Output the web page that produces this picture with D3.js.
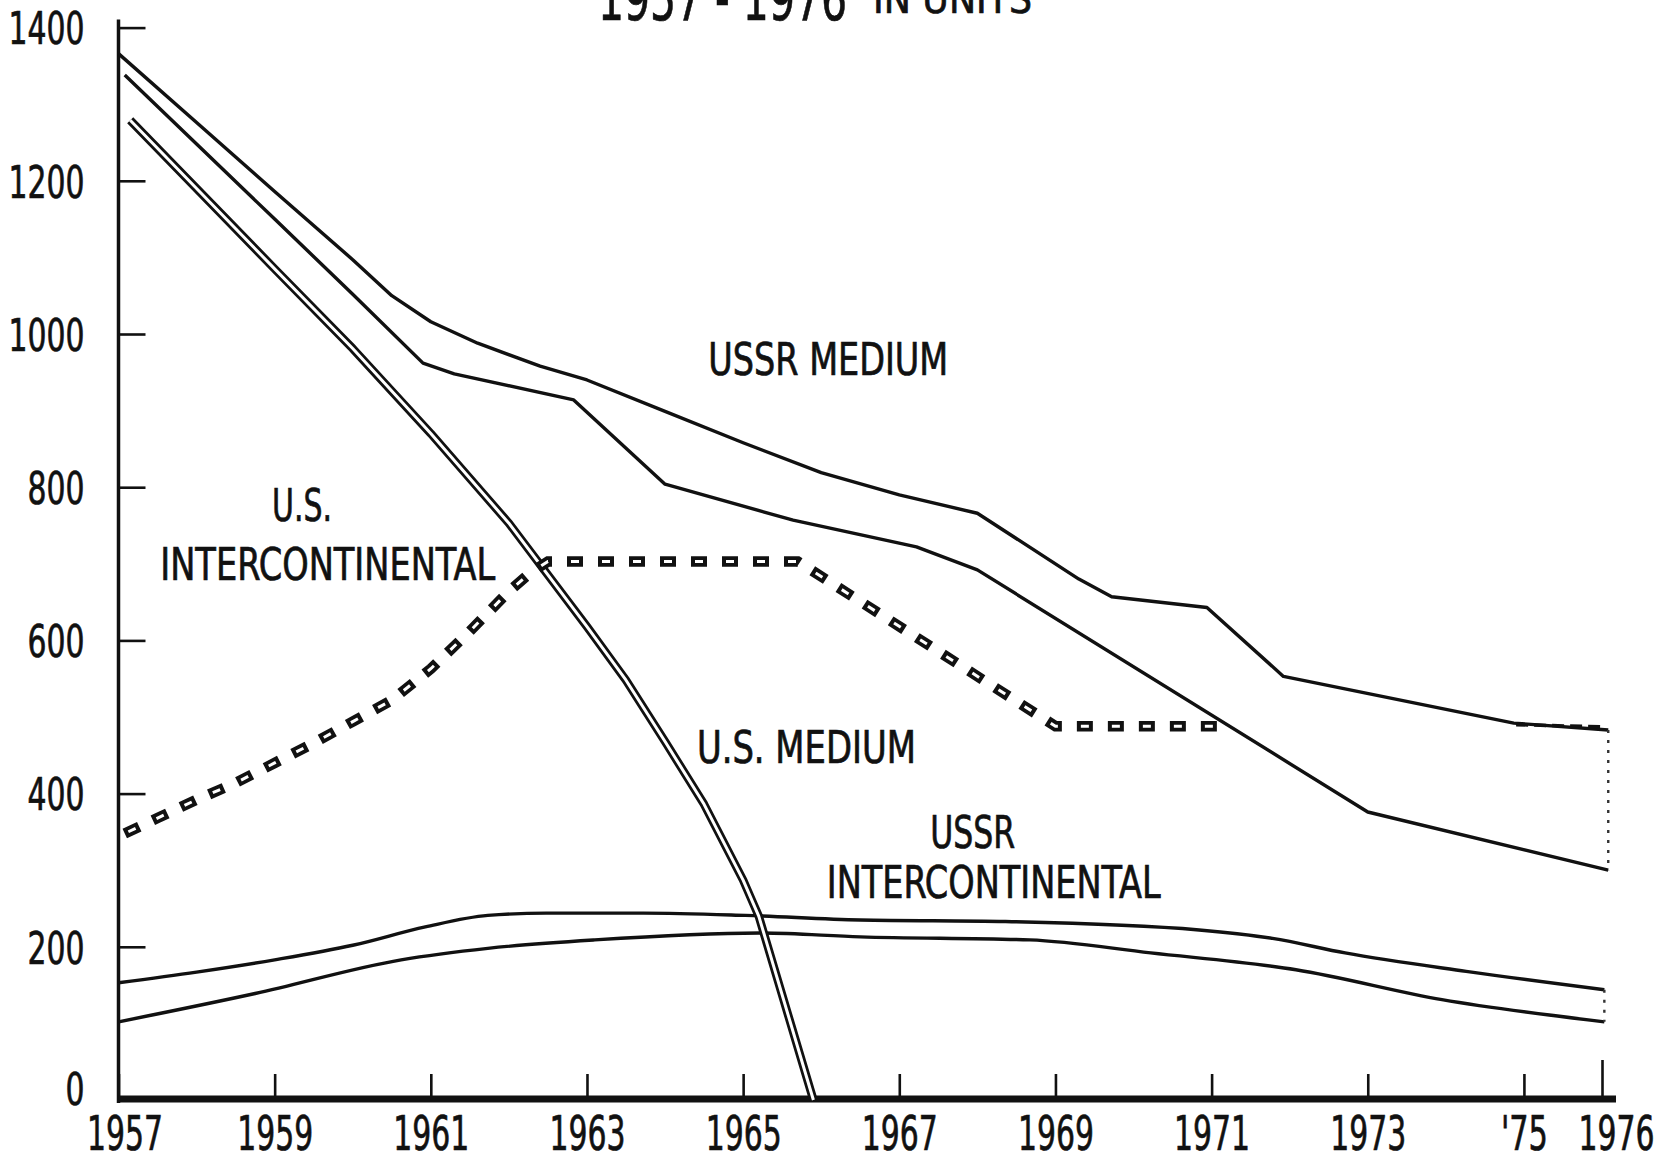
<!DOCTYPE html>
<html><head><meta charset="utf-8">
<script src="https://cdn.jsdelivr.net/npm/d3@7/dist/d3.min.js"></script>
<style>
html,body{margin:0;padding:0;background:#fff;}
svg{display:block;background:#fff;}
text{font-family:"Liberation Sans Narrow","Arial Narrow","DejaVu Sans Condensed",sans-serif;fill:#111;stroke:#111;stroke-width:0.7px;}
</style></head><body>
<svg id="chart" width="1660" height="1157"></svg>
<script>
// ---------- data ----------
const yTickValues = [0, 200, 400, 600, 800, 1000, 1200, 1400];
const xTickValues = [1957, 1959, 1961, 1963, 1965, 1967, 1969, 1971, 1973, 1975, 1976];
const xTickLabels = ["1957", "1959", "1961", "1963", "1965", "1967", "1969", "1971", "1973", "'75", "1976"];

const ussrMediumHighYears  = [1957, 1958, 1959, 1960, 1960.5, 1961, 1961.6, 1962.4, 1963, 1964, 1965, 1966, 1967, 1968, 1969.3, 1969.72, 1970.94, 1971.92, 1974.87, 1976.08];
const ussrMediumHighValues = [1366, 1276, 1186, 1097, 1050, 1016, 988, 958, 940, 899, 858, 819, 790, 766, 680, 657, 643, 553, 492, 483];

const ussrMediumLowYears  = [1957.08, 1958, 1959, 1960, 1960.9, 1961.3, 1962.83, 1964, 1965.64, 1967.22, 1968, 1973, 1976.08];
const ussrMediumLowValues = [1338, 1248, 1150, 1052, 962, 948, 914, 804, 757, 722, 692, 376, 300];

const ussrIcHighYears  = [1957, 1958, 1959, 1960, 1960.93, 1961.73, 1962.48, 1963.72, 1965.03, 1966.5, 1968.36, 1970.84, 1971.78, 1972.71, 1974.26, 1976.03];
const ussrIcHighValues = [153, 167, 183, 202, 226, 241, 244, 244, 241, 235, 233, 222, 211, 192, 168, 144];

const ussrIcLowYears  = [1957, 1958.75, 1960.62, 1961.73, 1963.1, 1965.21, 1966.5, 1968.67, 1970.22, 1972.08, 1973.95, 1976.03];
const ussrIcLowValues = [102, 139, 183, 198, 209, 218, 213, 209, 192, 170, 131, 102];

const usMediumYears  = [1957.15, 1958, 1959, 1960, 1961, 1962, 1963, 1963.5, 1964, 1964.5, 1965, 1965.2, 1965.9];
const usMediumValues = [1279, 1190, 1085, 981, 870, 753, 618, 548, 468, 386, 287, 240, 0];

const usIcYears  = [1957.08, 1957.5, 1958, 1958.5, 1959, 1959.5, 1960, 1960.5, 1961, 1961.5, 1962, 1962.27, 1962.5, 1965.7, 1969, 1971.1];
const usIcValues = [348, 368, 392, 414, 440, 466, 494, 522, 563, 612, 664, 688, 703, 703, 488, 488];

const usIcTailYears  = [1974.9, 1976.05];
const usIcTailValues = [490, 487];

const titleMain = "1957 - 1976";
const titleUnits = "IN UNITS";

// ---------- layout ----------
const svg = d3.select("#chart");
const x = d3.scaleLinear().domain([1957, 1976]).range([118.5, 1602]);
const y = d3.scaleLinear().domain([0, 1400]).range([1100, 27.6]);
const INK = "#111";

const zip = (xs, vs) => xs.map((d, i) => [d, vs[i]]);
const line = d3.line().x(d => x(d[0])).y(d => y(d[1]));
const smooth = d3.line().x(d => x(d[0])).y(d => y(d[1])).curve(d3.curveMonotoneX);

// width a tick label should occupy (condensed digits)
const labelWidth = s => Array.from(s).reduce((w, c) => w + (c === "'" ? 9 : 19), 0);

// ---------- title (cut off at the top) ----------
svg.append("text").attr("x", 598).attr("y", 20).attr("font-size", 62)
  .attr("textLength", 249).attr("lengthAdjust", "spacingAndGlyphs").text(titleMain);
svg.append("text").attr("x", 873).attr("y", 13).attr("font-size", 40)
  .attr("textLength", 159).attr("lengthAdjust", "spacingAndGlyphs").text(titleUnits);

// ---------- axes ----------
const yAxis = d3.axisLeft(y).tickValues(yTickValues).tickSize(-27).tickPadding(34).tickFormat(d3.format("d"));
const gy = svg.append("g").attr("transform", `translate(${x(1957)},0)`).call(yAxis);
gy.select(".domain").remove();
gy.selectAll(".tick line").attr("stroke", INK).attr("stroke-width", 2.6);
gy.selectAll(".tick text").attr("font-size", 45).attr("fill", INK)
  .attr("dy", d => d === 0 ? "0.1em" : "0.36em")
  .attr("textLength", d => labelWidth(String(d))).attr("lengthAdjust", "spacingAndGlyphs");

const xAxis = d3.axisBottom(x).tickValues(xTickValues).tickSize(-26).tickFormat((d, i) => xTickLabels[i]);
const gx = svg.append("g").attr("transform", `translate(0,${y(0)})`).call(xAxis);
gx.select(".domain").remove();
gx.selectAll(".tick line").attr("stroke", INK).attr("stroke-width", 2.6)
  .attr("y2", d => d === 1976 ? -40 : -26);
gx.selectAll(".tick text").attr("font-size", 48).attr("fill", INK)
  .attr("y", 50).attr("dy", 0)
  .attr("dx", d => d === 1976 ? 14 : d === 1957 ? 6 : 0)
  .attr("textLength", (d, i) => labelWidth(xTickLabels[i])).attr("lengthAdjust", "spacingAndGlyphs");

// axis lines
svg.append("line").attr("x1", x(1957)).attr("x2", x(1957))
  .attr("y1", y(0) + 3).attr("y2", y(1400) - 8)
  .attr("stroke", INK).attr("stroke-width", 3.5);
svg.append("line").attr("x1", x(1957)).attr("x2", x(1976) + 14)
  .attr("y1", y(0) - 1).attr("y2", y(0) - 1)
  .attr("stroke", INK).attr("stroke-width", 7);

// ---------- series ----------
const solid = (data, gen) => svg.append("path").attr("d", gen(data))
  .attr("fill", "none").attr("stroke", INK).attr("stroke-width", 3.4)
  .attr("stroke-linejoin", "round");

const ussrMH = zip(ussrMediumHighYears, ussrMediumHighValues);
const ussrML = zip(ussrMediumLowYears, ussrMediumLowValues);
const ussrIH = zip(ussrIcHighYears, ussrIcHighValues);
const ussrIL = zip(ussrIcLowYears, ussrIcLowValues);

solid(ussrMH, line);
solid(ussrML, line);
solid(ussrIH, smooth);
solid(ussrIL, smooth);

// dotted closing verticals at 1976
[[ussrMH, ussrML], [ussrIH, ussrIL]].forEach(([a, b]) => {
  const pa = a[a.length - 1], pb = b[b.length - 1];
  svg.append("line").attr("x1", x(pa[0])).attr("x2", x(pb[0]))
    .attr("y1", y(pa[1])).attr("y2", y(pb[1]))
    .attr("stroke", "#333").attr("stroke-width", 2.4).attr("stroke-dasharray", "3,7");
});

// U.S. medium: double line
const usM = zip(usMediumYears, usMediumValues);
svg.append("path").attr("d", line(usM)).attr("fill", "none")
  .attr("stroke", INK).attr("stroke-width", 8.5).attr("stroke-linejoin", "round");
svg.append("path").attr("d", line(usM)).attr("fill", "none")
  .attr("stroke", "#fff").attr("stroke-width", 3).attr("stroke-linejoin", "round");

// U.S. intercontinental: hollow box dashes
const usI = zip(usIcYears, usIcValues);
svg.append("path").attr("d", line(usI)).attr("fill", "none")
  .attr("stroke", INK).attr("stroke-width", 10.5).attr("stroke-dasharray", "16,15");
svg.append("path").attr("d", line(usI)).attr("fill", "none")
  .attr("stroke", "#fff").attr("stroke-width", 3)
  .attr("stroke-dasharray", "8,23").attr("stroke-dashoffset", -4);

const usIT = zip(usIcTailYears, usIcTailValues);
svg.append("path").attr("d", line(usIT)).attr("fill", "none")
  .attr("stroke", INK).attr("stroke-width", 3.5).attr("stroke-dasharray", "12,6");

// ---------- labels ----------
const labels = [
  { text: "USSR MEDIUM",      year: 1966.09, value: 946, width: 240 },
  { text: "U.S.",             year: 1959.35, value: 756, width: 60 },
  { text: "INTERCONTINENTAL", year: 1959.68, value: 679, width: 335 },
  { text: "U.S. MEDIUM",      year: 1965.81, value: 440, width: 219 },
  { text: "USSR",             year: 1967.94, value: 329, width: 85 },
  { text: "INTERCONTINENTAL", year: 1968.21, value: 264, width: 334 }
];
svg.selectAll("text.lbl").data(labels).join("text").attr("class", "lbl")
  .attr("x", d => x(d.year)).attr("y", d => y(d.value))
  .attr("text-anchor", "middle").attr("font-size", 44)
  .attr("textLength", d => d.width).attr("lengthAdjust", "spacingAndGlyphs")
  .text(d => d.text);
</script>
</body></html>
